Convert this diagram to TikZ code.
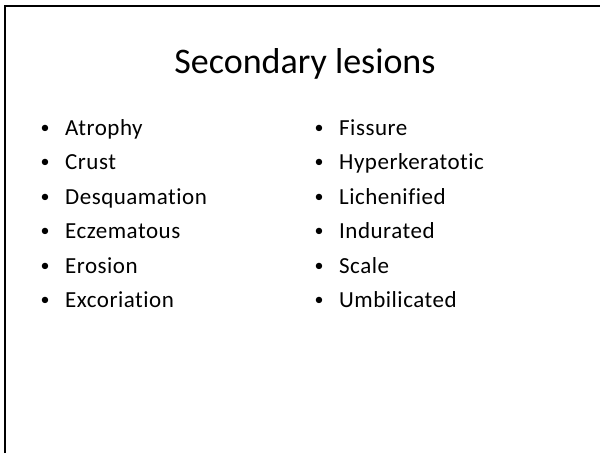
\documentclass[tikz,border=0pt]{standalone}
\usepackage{fontspec}
\setmainfont{Carlito}[Ligatures=NoCommon]
\newfontfamily\bodyfont{Carlito}[Ligatures=NoCommon,LetterSpace=2.2]
\usepackage{tikz}

\begin{document}
\begin{tikzpicture}[x=1pt,y=-1pt,
  entry/.style={anchor=base west,inner sep=0pt,font=\bodyfont\fontsize{23}{23}\selectfont},
  bullet/.style={anchor=base,inner sep=0pt,font=\fontsize{18}{18}\selectfont}]
\useasboundingbox (0,0) rectangle (600,453);
\draw[line width=2pt] (5,453) -- (5,6) -- (600,6);
\node[anchor=base,inner sep=0pt,font=\fontsize{36}{36}\selectfont] (title) at (305,73) {Secondary lesions};
% left column
\foreach \lesion [count=\i] in {Atrophy,Crust,Desquamation,Eczematous,Erosion,Excoriation}{
  \node[bullet] (lbul\i) at (45,{98.5+34.5*\i}) {\textbullet};
  \node[entry] (left\i) at (65,{100.5+34.5*\i}) {\lesion};
}
% right column
\foreach \lesion [count=\i] in {Fissure,Hyperkeratotic,Lichenified,Indurated,Scale,Umbilicated}{
  \node[bullet] (rbul\i) at (319,{98.5+34.5*\i}) {\textbullet};
  \node[entry] (right\i) at (339,{100.5+34.5*\i}) {\lesion};
}
\end{tikzpicture}
\end{document}
